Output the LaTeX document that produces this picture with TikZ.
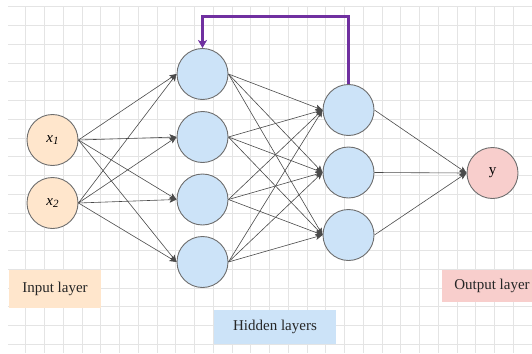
\documentclass[tikz,border=0pt]{standalone}
\usepackage{fontspec}
\setmainfont{Liberation Serif}
\usetikzlibrary{arrows.meta}

\definecolor{gridc}{HTML}{E4E4E4}
\definecolor{edgec}{HTML}{4A4A4A}
\definecolor{ringc}{HTML}{6E6E6E}
\definecolor{inpeach}{HTML}{FFE6CC}
\definecolor{hidblue}{HTML}{CCE3F8}
\definecolor{outpink}{HTML}{F8CECC}
\definecolor{loopc}{HTML}{7030A0}

\tikzset{
  neuron/.style={circle, draw=ringc, line width=0.9pt, minimum size=51pt, inner sep=0pt,
                 font=\fontsize{15}{18}\selectfont},
  inneuron/.style={neuron, fill=inpeach},
  hidneuron/.style={neuron, fill=hidblue},
  outneuron/.style={neuron, fill=outpink},
  tag/.style={draw=none, inner sep=0pt, font=\fontsize{15}{18}\selectfont, text=black!85},
  wire/.style={draw=edgec, line width=0.6pt, -{Stealth[length=7pt,width=6pt,inset=1.5pt]}},
  loop/.style={draw=loopc, line width=2.2pt, -{Stealth[length=8pt,width=9pt,inset=2pt]}}
}

\newcommand{\inlabel}[1]{\textit{x}\raisebox{-0.35ex}{\fontsize{11}{12}\selectfont\itshape #1}}

\begin{document}
\begin{tikzpicture}[x=1pt, y=-1pt]
  \useasboundingbox (0,0) rectangle (532,353);

  % background grid
  \begin{scope}
    \clip (8,6) rectangle (532,353);
    \foreach \k in {0,...,27} {
      \draw[gridc, line width=0.8pt] ({25.7+18.75*\k},6) -- ({25.7+18.75*\k},353);
    }
    \foreach \k in {0,...,18} {
      \draw[gridc, line width=0.8pt] (8,{6.7+18.75*\k}) -- (532,{6.7+18.75*\k});
    }
  \end{scope}

  % layer captions
  \node[tag, fill=inpeach, minimum width=92pt, minimum height=38pt] (capin) at (55,289) {Input layer};
  \node[tag, fill=hidblue, minimum width=122pt, minimum height=34pt] (caphid) at (275,327) {Hidden layers};
  \node[tag, fill=outpink, minimum width=100pt, minimum height=32pt] (capout) at (492,286) {Output layer};

  % neurons
  \node[inneuron] (i1) at (52.5,140) {\inlabel{1}};
  \node[inneuron] (i2) at (52.5,203) {\inlabel{2}};

  \node[hidneuron] (a1) at (202.5,74) {};
  \node[hidneuron] (a2) at (202.5,137) {};
  \node[hidneuron] (a3) at (202.5,199.5) {};
  \node[hidneuron] (a4) at (202.5,262) {};

  \node[hidneuron] (b1) at (348.5,110) {};
  \node[hidneuron] (b2) at (348.5,172.5) {};
  \node[hidneuron] (b3) at (348.5,235) {};

  \node[outneuron] (o) at (492.5,173) {y};

  % fully connected weights
  \foreach \s in {i1,i2} {
    \foreach \t in {a1,a2,a3,a4} {
      \draw[wire] (\s.east) -- (\t.west);
    }
  }
  \foreach \s in {a1,a2,a3,a4} {
    \foreach \t in {b1,b2,b3} {
      \draw[wire] (\s.east) -- (\t.west);
    }
  }
  \foreach \s in {b1,b2,b3} {
    \draw[wire] (\s.east) -- (o.west);
  }

  % recurrent feedback connection
  \coordinate (topright) at (348.5,16.5);
  \coordinate (topleft) at (202.5,16.5);
  \draw[loop] (b1.north) -- (topright) -- (topleft) -- (a1.north);
\end{tikzpicture}
\end{document}
